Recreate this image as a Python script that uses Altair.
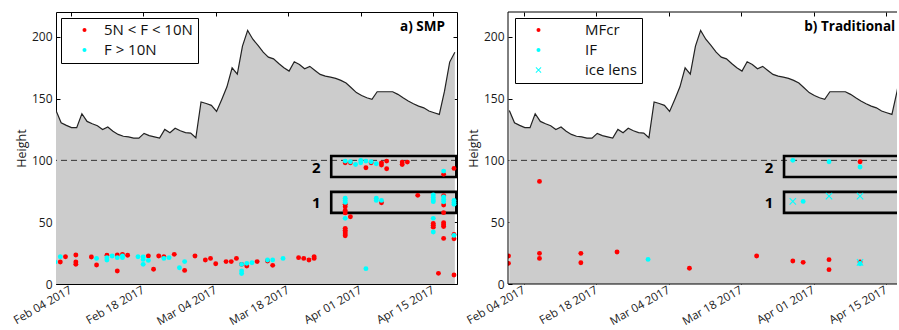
import altair as alt
import pandas as pd

FONT = "Open Sans"
BASE = pd.Timestamp("2017-02-01")

# ---------------- data ----------------
# daily snow height (cm), first value on 2017-02-01 ~04:00
hs_values = [140.4, 130.4, 128.3, 126.5, 126.5, 137.7, 131.5, 129.6, 128.0, 125.0,
             127.0, 123.5, 121.0, 119.5, 119.0, 118.0, 118.0, 121.8, 120.0, 119.0,
             118.0, 125.0, 122.3, 126.0, 124.0, 122.4, 122.0, 118.3, 147.2, 146.0,
             144.5, 139.6, 149.3, 159.5, 174.9, 169.8, 192.4, 205.1, 198.0, 193.0,
             187.5, 183.5, 182.1, 178.4, 174.9, 172.2, 179.7, 177.6, 174.1, 176.0,
             172.7, 169.5, 168.1, 167.3, 166.3, 164.7, 162.5, 158.7, 154.8, 152.5,
             150.6, 149.4, 155.5, 155.5, 155.5, 155.5, 153.4, 150.6, 148.0, 145.8,
             143.9, 142.5, 139.9, 138.5, 137.2, 156.0, 179.5, 187.5]

# SMP: 5N < F < 10N  (day offset from Feb 01, height)
smp_red_day = [1, 2, 4, 4, 4, 7, 8, 10, 12, 12, 13, 14, 18, 19, 20, 21, 23, 25, 27,
               29, 30, 31, 33, 34, 35, 36, 37, 39, 41, 42, 47, 48, 49, 50, 50,
               56, 56, 56, 56, 56, 56, 56, 56, 56, 56,
               57, 57, 60, 61, 63, 63, 63, 64, 64, 67, 67, 68, 70,
               73, 73, 73, 74, 75, 75, 75, 75, 75, 75, 75, 75, 77, 77, 77, 77]
smp_red_val = [17.8, 22.1, 23.4, 17.8, 15.9, 21.8, 15.4, 23.2, 23.4, 10.5, 24.0, 23.2,
               22.6, 11.9, 22.6, 22.1, 24.0, 11.0, 22.6, 19.4, 20.7, 16.4, 18.1, 18.1,
               20.7, 15.9, 14.6, 18.1, 18.6, 15.1, 21.3, 20.7, 19.4, 22.1, 20.7,
               98.0, 64.5, 62.5, 59.5, 57.5, 45.0, 43.5, 42.0, 40.5, 39.0,
               54.4, 98.0, 94.0, 98.0, 98.0, 96.2, 65.7, 99.4, 93.2, 98.6, 96.7, 98.6, 71.7,
               49.0, 47.5, 46.0, 8.6, 88.7, 71.5, 63.9, 57.7, 49.6, 48.0, 46.5, 36.9,
               93.5, 40.0, 36.6, 7.3]
# SMP: F > 10N
smp_cyan_day = [0, 1, 8, 10, 10, 11, 12, 13, 13, 16, 17, 17, 17, 18, 21, 22, 24, 25,
                36, 36, 36, 37, 38, 41, 42, 44,
                56, 56, 56, 56, 56, 57, 58, 59, 59, 60, 60, 61, 62, 62, 62, 63,
                73, 73, 73, 73, 73, 73, 75, 75, 75, 75, 77, 77, 77, 77]
smp_cyan_val = [17.8, 22.1, 20.7, 21.3, 19.4, 22.6, 21.3, 22.6, 21.3, 22.1, 21.8, 19.9,
                15.9, 19.1, 20.7, 21.3, 13.2, 18.1, 15.9, 10.5, 8.4, 16.7, 17.2, 19.4,
                19.4, 20.7,
                99.4, 69.3, 67.5, 66.0, 53.1, 98.9, 96.7, 100.0, 98.0, 99.4, 12.4, 98.9,
                97.3, 69.3, 67.6, 67.6,
                72.0, 70.0, 68.0, 66.6, 53.1, 42.0, 91.3, 70.5, 68.5, 66.5,
                67.5, 66.0, 64.5, 39.3]

# Traditional profiles
mfcr_day = [0, 0, 6, 6, 6, 14, 14, 21, 35, 48, 55, 57, 62, 62, 68, 68]
mfcr_val = [22.6, 16.7, 83.0, 24.8, 20.7, 24.8, 17.2, 25.9, 12.7, 22.6, 18.6, 17.5,
            19.7, 11.6, 98.9, 17.8]
if_day = [27, 55, 57, 62, 68, 68]
if_val = [19.9, 100.0, 66.8, 98.9, 94.6, 16.4]
ice_day = [55, 62, 68, 68]
ice_val = [66.8, 71.1, 71.1, 17.5]

# highlighted layers (boxes) and their labels
box_label = ["2", "1"]
box_bottom = [86.5, 57.5]
box_top = [103.5, 74.5]
box_label_val = [93.8, 65.5]
box_start_day = 53.3
box_end_day = 77.45
box_label_day = 50.4

ref_height = 100
y_ticks = [0, 50, 100, 150, 200]
tick_dates = [(2, 4), (2, 18), (3, 4), (3, 18), (4, 1), (4, 15)]

smp_classes = ["5N < F < 10N", "F > 10N"]
trad_classes = ["MFcr", "IF", "ice lens"]
RED = "#ff0000"
CYAN = "#00ffff"
X_SHAPE = ("M-1.15,-1.45L1.45,1.15L1.15,1.45L-1.45,-1.15Z "
           "M1.15,-1.45L1.45,-1.15L-1.15,1.45L-1.45,1.15Z")

left_range = (pd.Timestamp("2017-02-01 04:05"), pd.Timestamp("2017-04-19 13:55"))
right_range = (pd.Timestamp("2017-01-31 21:50"), pd.Timestamp("2017-04-17 03:36"))


def day(d):
    return BASE + pd.to_timedelta(d, unit="D")


def dt(ts):
    return alt.DateTime(year=ts.year, month=ts.month, date=ts.day, hours=ts.hour,
                        minutes=ts.minute)


hs_df = pd.DataFrame({"date": pd.date_range("2017-02-01 04:00", periods=len(hs_values), freq="D"),
                      "hs": hs_values})
smp_df = pd.DataFrame({
    "date": [day(d) for d in smp_red_day] + [day(d) for d in smp_cyan_day],
    "val": smp_red_val + smp_cyan_val,
    "cls": [smp_classes[0]] * len(smp_red_day) + [smp_classes[1]] * len(smp_cyan_day),
})
trad_df = pd.DataFrame({
    "date": [day(d) for d in mfcr_day + if_day + ice_day],
    "val": mfcr_val + if_val + ice_val,
    "cls": ["MFcr"] * len(mfcr_day) + ["IF"] * len(if_day) + ["ice lens"] * len(ice_day),
})
box_df = pd.DataFrame({
    "x1": [day(box_start_day)] * 2, "x2": [day(box_end_day)] * 2,
    "y1": box_bottom, "y2": box_top,
    "lab": box_label, "ly": box_label_val, "lx": [day(box_label_day)] * 2,
})

tick_values = [alt.DateTime(year=2017, month=m, date=d) for m, d in tick_dates]
Y_SCALE = alt.Scale(domain=[0, 220], nice=False, zero=False)

x_bottom = alt.Axis(values=tick_values, format="%b %d %Y", labelAngle=330, labelAlign="right",
                    labelBaseline="middle", labelPadding=5, tickSize=4, offset=-4, domain=False,
                    grid=False, title=None, labelFontSize=11.5)
y_left = alt.Axis(values=y_ticks, tickSize=4, offset=-4, domain=False, grid=False, title="Height",
                  labelPadding=4, titlePadding=3, labelFontSize=12)
x_top = alt.Axis(orient="top", values=tick_values, labels=False, tickSize=4, offset=-4,
                 domain=False, grid=False, title=None)
y_right = alt.Axis(orient="right", values=y_ticks, labels=False, tickSize=4, offset=-4,
                   domain=False, grid=False, title=None)


def panel(points, classes, colors, shapes, title, title_day, xrange, width,
          legend_x, label_offset, borders):
    xs = alt.Scale(domain=[dt(xrange[0]), dt(xrange[1])], nice=False)
    area = alt.Chart(hs_df).mark_area(color="#cccccc", clip=True).encode(
        x=alt.X("date:T", scale=xs, axis=x_bottom),
        y=alt.Y("hs:Q", scale=Y_SCALE, axis=y_left),
    )
    line = alt.Chart(hs_df).mark_line(color="#222222", strokeWidth=1.2, clip=True).encode(
        x=alt.X("date:T", axis=None), y=alt.Y("hs:Q", axis=None))
    dash = alt.Chart(pd.DataFrame({"y": [ref_height]})).mark_rule(
        color="#333333", strokeDash=[6, 4], strokeWidth=1).encode(y=alt.Y("y:Q", axis=None))
    boxes = alt.Chart(box_df).mark_rect(fillOpacity=0, stroke="black", strokeWidth=2.6,
                                        clip=True).encode(
        x=alt.X("x1:T", axis=None), x2="x2:T", y=alt.Y("y1:Q", axis=None), y2="y2:Q")
    blabels = alt.Chart(box_df).mark_text(font=FONT, fontSize=15, fontWeight="bold",
                                          color="black").encode(
        x=alt.X("lx:T", axis=None), y=alt.Y("ly:Q", axis=None), text="lab:N")
    legend = alt.Legend(orient="none", legendX=legend_x, legendY=6, title=None,
                        fillColor="white", strokeColor="black", padding=4.5, symbolSize=16,
                        symbolOffset=11.5, labelOffset=label_offset, labelFontSize=15,
                        labelFont=FONT, rowPadding=4, labelColor="#111111")
    enc = dict(
        x=alt.X("date:T", axis=None), y=alt.Y("val:Q", axis=None),
        color=alt.Color("cls:N", scale=alt.Scale(domain=classes, range=colors), legend=legend,
                        sort=classes),
    )
    if shapes is not None:
        enc["shape"] = alt.Shape("cls:N", scale=alt.Scale(domain=classes, range=shapes),
                                 legend=legend, sort=classes)
    pts = alt.Chart(points).mark_point(filled=True, size=24, opacity=1, clip=True).encode(**enc)
    tdf = pd.DataFrame({"date": [day(title_day)], "y": [207.8], "t": [title]})
    ttl = alt.Chart(tdf).mark_text(align="right", baseline="middle", font=FONT,
                                   fontSize=13.5, fontWeight="bold", color="black",
                                   clip=True).encode(
        x=alt.X("date:T", axis=x_top),
        y=alt.Y("y:Q", axis=(None if borders else y_right)),
        text="t:N")
    layers = [area, line, dash, boxes, blabels, pts, ttl]
    props = dict(width=width, height=272)
    if borders:
        bx = alt.Chart(pd.DataFrame({"d": [xrange[0]]})).mark_rule(
            color="black", strokeWidth=1).encode(x=alt.X("d:T", axis=None))
        by = alt.Chart(pd.DataFrame({"y": [0, 220]})).mark_rule(
            color="black", strokeWidth=1).encode(y=alt.Y("y:Q", axis=None))
        layers += [bx, by]
        props["view"] = alt.ViewBackground(strokeOpacity=0)
    return alt.layer(*layers).resolve_axis(x="independent", y="independent").properties(**props)


left = panel(smp_df, smp_classes, [RED, CYAN], None, "a) SMP", 75.26,
             left_range, 401, 5, 12, False)
right = panel(trad_df, trad_classes, [RED, CYAN, CYAN], ["circle", "circle", X_SHAPE],
              "b) Traditional", 74.8, right_range, 389, 7, 39, True)

chart = alt.hconcat(left, right, spacing=51, bounds="flush").resolve_scale(
    x="independent", y="independent", color="independent", shape="independent"
).resolve_legend(color="independent", shape="independent").properties(
    padding={"left": 10, "top": 11, "right": 0, "bottom": 0}, background="white"
).configure_axis(
    labelFont=FONT, labelColor="#1a1a1a", titleFont=FONT, titleFontSize=12.5,
    titleFontWeight="normal", titleColor="#1a1a1a", tickColor="black", tickWidth=1
).configure_view(stroke="black", strokeWidth=1)

chart.save("out.html", embed_options={"renderer": "svg", "actions": False})
